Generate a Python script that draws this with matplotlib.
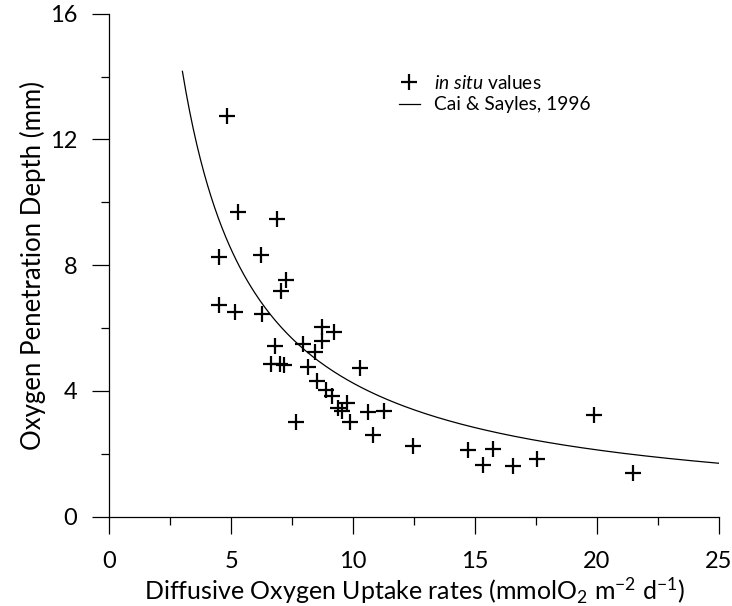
#!/usr/bin/env python3
""" Oxygen penetration depth vs diffusive oxygen uptake, with the Cai & Sayles curve.
"""
import numpy as np
import matplotlib
matplotlib.use("Agg")
import matplotlib.pyplot as plt
from matplotlib.ticker import MultipleLocator

# in situ values: diffusive oxygen uptake (mmolO2 m-2 d-1) and penetration depth (mm)
dou = [4.82, 5.27, 6.87, 4.51, 6.22, 7.25, 7.04,
       4.51, 5.16, 6.26, 6.81, 6.65, 7.00, 7.15, 7.65,
       7.96, 8.44, 8.71, 8.71, 9.23, 8.16, 8.53, 8.89, 9.12,
       9.39, 9.53, 9.74, 9.87, 10.28, 10.62, 11.27, 10.83,
       12.47, 14.70, 15.32, 15.73, 16.57, 17.53, 19.89, 21.49]
opd = [12.73, 9.69, 9.48, 8.26, 8.33, 7.53, 7.19,
       6.74, 6.50, 6.44, 5.43, 4.87, 4.85, 4.82, 3.02,
       5.49, 5.24, 6.02, 5.59, 5.88, 4.77, 4.31, 4.02, 3.83,
       3.46, 3.35, 3.62, 3.02, 4.72, 3.32, 3.35, 2.61,
       2.26, 2.11, 1.65, 2.15, 1.60, 1.83, 3.23, 1.39]

# Cai & Sayles (1996): OPD = k / DOU
cai_k = 42.5
cai_xmin, cai_xmax = 3.0, 25.0

x_ticks = [0, 5, 10, 15, 20, 25]
y_ticks = [0, 4, 8, 12, 16]

plt.rcParams['font.family'] = ['Lato', 'DejaVu Sans']
plt.rcParams['mathtext.fontset'] = 'custom'
plt.rcParams['mathtext.rm'] = 'Lato'
plt.rcParams['mathtext.it'] = 'Lato:italic'

fig = plt.figure(figsize=(7.32, 6.06), dpi=100)
ax = fig.add_axes([0.1493, 0.1474, 0.8325, 0.830])

xc = np.linspace(cai_xmin, cai_xmax, 300)
ax.plot(xc, cai_k / xc, color='black', linewidth=0.9, label='Cai & Sayles, 1996')
ax.plot(dou, opd, linestyle='None', marker='+', color='black',
        markersize=11, markeredgewidth=1.6, label=r'$\it{in\ situ}$ values')

ax.set_xlim(0, 25)
ax.set_ylim(0, 16)
ax.set_xticks(x_ticks)
ax.set_yticks(y_ticks)
ax.xaxis.set_minor_locator(MultipleLocator(2.5))
ax.yaxis.set_minor_locator(MultipleLocator(2))
for s in ['top', 'right']:
    ax.spines[s].set_visible(False)
for s in ['left', 'bottom']:
    ax.spines[s].set_linewidth(0.9)
ax.tick_params(which='major', direction='out', length=12, width=0.9, labelsize=17)
ax.tick_params(which='minor', direction='out', length=6, width=0.9)
ax.tick_params(axis='x', which='major', pad=13)
ax.tick_params(axis='y', which='major', pad=11)

ax.set_xlabel(r'Diffusive Oxygen Uptake rates (mmolO$_2$ m$^{-2}$ d$^{-1}$)', fontsize=18, labelpad=2)
ax.set_ylabel('Oxygen Penetration Depth (mm)', fontsize=18.5, labelpad=3)

h, l = ax.get_legend_handles_labels()
ax.legend(h[::-1], l[::-1], loc='upper left', bbox_to_anchor=(0.447, 0.914),
          frameon=False, fontsize=13.8, handlelength=1.1, handletextpad=0.75,
          labelspacing=0.22)

plt.savefig('out.png', dpi=100)
